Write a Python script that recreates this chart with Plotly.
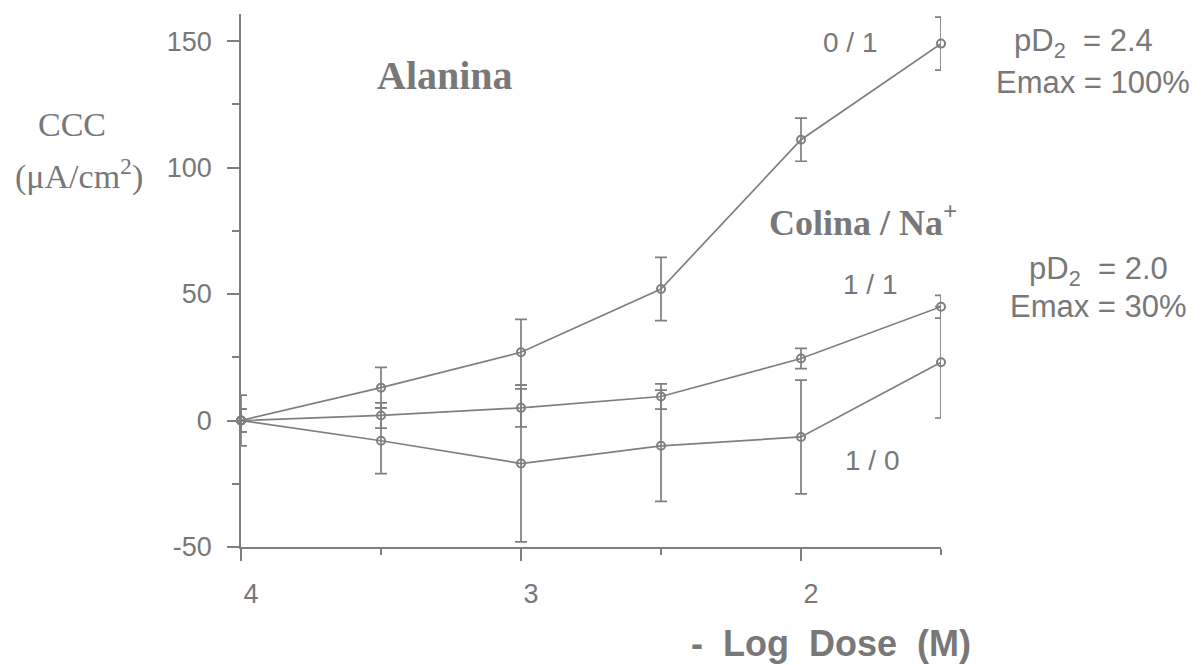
import plotly.graph_objects as go

dose = [4, 3.5, 3, 2.5, 2, 1.5]
s01 = [0, 13, 27, 52, 111, 149]
e01 = [4.5, 8, 13, 12.5, 8.5, 10.5]
s11 = [0, 2, 5, 9.5, 24.5, 45]
e11 = [4.5, 5, 7.5, 5, 4, 4.5]
s10 = [0, -8, -17, -10, -6.5, 23]
e10 = [10, 13, 31, 22, 22.5, 22]

xticks = [4, 3, 2]
yticks = [-50, 0, 50, 100, 150]
yticktext = ["-50", "0", "50", "100", "150"]

GRAY = "#7f7f7f"
TXT = "#787878"

fig = go.Figure()
for ys, es in [(s01, e01), (s11, e11), (s10, e10)]:
    fig.add_trace(go.Scatter(
        x=dose, y=ys, mode="lines+markers",
        line=dict(color=GRAY, width=1.7),
        marker=dict(symbol="circle-open", size=8, color=GRAY, line=dict(width=2)),
        error_y=dict(type="data", array=es, visible=True, color=GRAY, thickness=1.7, width=6),
        showlegend=False, cliponaxis=False,
    ))

L, R, T, B = 241, 941, 14, 547
W, H = 1203, 665

def px(x):
    return (x - L) / (R - L)

def py(y):
    return (B - y) / (B - T)

NB = "\u00a0"
ann = [
    ("<b>Alanina</b>", 445, 76, 40, "Liberation Serif"),
    ("<b>Colina / Na<sup>+</sup></b>", 863, 220, 36, "Liberation Serif"),
    ("CCC", 72, 124, 34, "Liberation Serif"),
    ("(μA/cm<sup>2</sup>)", 79, 174, 34, "Liberation Serif"),
    ("0 / 1", 850, 43, 28, "Liberation Sans"),
    ("1 / 1", 870, 284, 28, "Liberation Sans"),
    ("1 / 0", 872, 460, 28, "Liberation Sans"),
    ("pD<sub>2</sub>" + NB + NB + "= 2.4", 1083, 43, 31, "Liberation Sans"),
    ("Emax = 100%", 1093, 82, 31, "Liberation Sans"),
    ("pD<sub>2</sub>" + NB + NB + "= 2.0", 1098, 271, 31, "Liberation Sans"),
    ("Emax = 30%", 1098, 306, 31, "Liberation Sans"),
    ("<b>-" + NB * 2 + "Log" + NB * 2 + "Dose" + NB * 2 + "(M)</b>", 831, 643, 36, "Liberation Sans"),
]
for text, x, y, size, fam in ann:
    fig.add_annotation(text=text, x=px(x), y=py(y), xref="paper", yref="paper",
                       showarrow=False, xanchor="center", yanchor="middle",
                       font=dict(family=fam, size=size, color=TXT))

fig.update_layout(
    width=W, height=H,
    margin=dict(l=L, r=W - R, t=T, b=H - B),
    paper_bgcolor="white", plot_bgcolor="white",
    xaxis=dict(range=[4, 1.5], tickvals=xticks, ticktext=[str(t) for t in xticks],
               showline=True, linecolor=GRAY, linewidth=1.7, showgrid=False, zeroline=False,
               ticks="outside", ticklen=12, tickcolor=GRAY, tickwidth=1.6,
               ticklabelshift=-10, ticklabelstandoff=10,
               minor=dict(tickvals=[3.5, 2.5, 1.5], ticks="outside", ticklen=6, tickcolor=GRAY),
               tickfont=dict(family="Liberation Sans", size=27, color=TXT)),
    yaxis=dict(range=[-50, 160.7], tickvals=yticks, ticktext=yticktext,
               showline=True, linecolor=GRAY, linewidth=1.7, showgrid=False, zeroline=False,
               ticks="outside", ticklen=12, tickcolor=GRAY, tickwidth=1.6,
               ticklabelstandoff=10,
               minor=dict(tickvals=[-25, 25, 75, 125], ticks="outside", ticklen=7, tickcolor=GRAY),
               tickfont=dict(family="Liberation Sans", size=27, color=TXT)),
)

fig.write_html("out.html")
